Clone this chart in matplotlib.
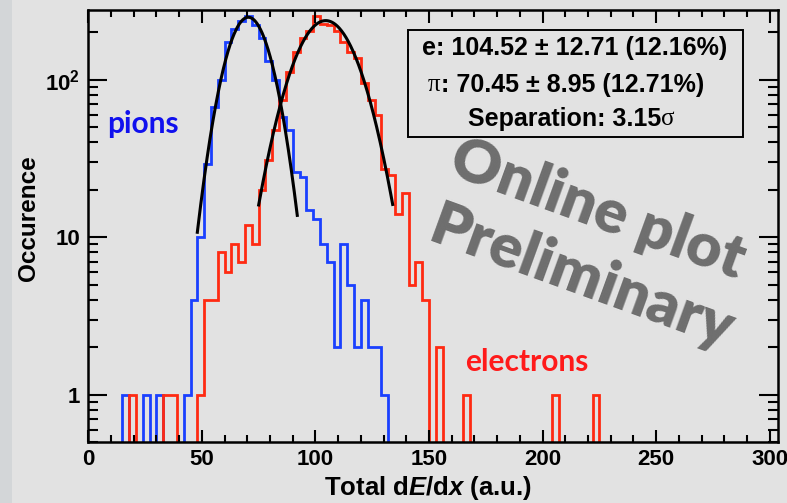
import numpy as np
import matplotlib
matplotlib.use("Agg")
import matplotlib.pyplot as plt
from matplotlib.ticker import FixedLocator, FixedFormatter, LogLocator, NullFormatter, MultipleLocator
from matplotlib.patches import Rectangle

# ---------------- data ----------------
bin_width = 3
x_max = 303
# pion histogram: left bin edge -> counts
pion_bins = [15, 24, 30, 42, 45, 48, 51, 54, 57, 60, 63, 66, 69, 72, 75, 78, 81, 84, 87,
             90, 93, 96, 99, 102, 105, 108, 111, 114, 117, 120, 123, 126, 129]
pion_counts = [1, 1, 1, 1, 4, 10, 29, 67, 100, 175, 210, 237, 255, 222, 184, 131, 100, 58, 48,
               26, 24, 15, 13, 9, 7, 2, 9, 5, 2, 4, 2, 2, 1]
# electron histogram
elec_bins = [18, 33, 36, 48, 51, 54, 57, 60, 63, 66, 69, 72, 75, 78, 81, 84, 87, 90, 93, 96,
             99, 102, 105, 108, 111, 114, 117, 120, 123, 126, 129, 132, 135, 138, 141, 144,
             147, 153, 165, 204, 222]
elec_counts = [1, 1, 1, 1, 4, 4, 8, 6, 9, 7, 12, 9, 20, 31, 48, 75, 113, 151, 185, 205,
               255, 228, 222, 205, 173, 151, 137, 95, 75, 60, 27, 25, 14, 19, 5, 7,
               4, 2, 1, 1, 1]
# gaussian fits (amplitude, mean, sigma, fit range)
pion_fit = dict(amp=250, mean=70.45, sigma=8.95, lo=48, hi=92)
elec_fit = dict(amp=238, mean=104.52, sigma=12.71, lo=75, hi=134)

stats_lines = ["e: 104.52 \u00b1 12.71 (12.16%)",
               ": 70.45 \u00b1 8.95 (12.71%)",
               "Separation: 3.15"]
x_ticks = [0, 50, 100, 150, 200, 250, 300]
y_ticks = [1, 10, 100]
y_ticklabels = ["1", "10", r"$\mathbf{10^{2}}$"]

# ---------------- style ----------------
plt.rcParams["font.family"] = ["Liberation Sans", "DejaVu Sans"]
plt.rcParams["font.weight"] = "bold"
plt.rcParams["mathtext.fontset"] = "custom"
plt.rcParams["mathtext.rm"] = "Liberation Sans:bold"
plt.rcParams["mathtext.bf"] = "Liberation Sans:bold"
plt.rcParams["mathtext.it"] = "Liberation Sans:bold:italic"

BG = "#e2e2e2"
BLUE = "#1a40ff"
RED = "#ff2a12"
W, H = 787, 503
fig = plt.figure(figsize=(W / 100, H / 100), dpi=100, facecolor=BG)
fig.patches.append(Rectangle((0, 0), 12 / W, 1, transform=fig.transFigure,
                             facecolor="#d3d6d8", edgecolor="none", zorder=-1))

L, R, T, B = 88.3, 777.7, 9.5, 442.0
ax = fig.add_axes([L / W, 1 - B / H, (R - L) / W, (B - T) / H])
ax.set_facecolor(BG)

edges = np.arange(0, x_max + bin_width, bin_width)
def full_hist(bins, counts):
    h = np.full(len(edges) - 1, 1e-3)
    for b, c in zip(bins, counts):
        h[int(b // bin_width)] = c
    return h

ax.stairs(full_hist(pion_bins, pion_counts), edges, baseline=None, color=BLUE, lw=2.0)
ax.stairs(full_hist(elec_bins, elec_counts), edges, baseline=None, color=RED, lw=2.0)

for f in (pion_fit, elec_fit):
    xx = np.linspace(f["lo"], f["hi"], 300)
    ax.plot(xx, f["amp"] * np.exp(-0.5 * ((xx - f["mean"]) / f["sigma"]) ** 2),
            color="black", lw=2.2)

ax.set_yscale("log")
ax.set_xlim(0, x_max + 0.5)
ax.set_ylim(0.5, 280)

ax.xaxis.set_major_locator(FixedLocator(x_ticks))
ax.xaxis.set_minor_locator(MultipleLocator(10))
ax.yaxis.set_major_locator(FixedLocator(y_ticks))
ax.yaxis.set_major_formatter(FixedFormatter(y_ticklabels))
ax.yaxis.set_minor_locator(LogLocator(base=10, subs=np.arange(2, 10)))
ax.yaxis.set_minor_formatter(NullFormatter())

ax.tick_params(which="both", direction="in", top=True, right=True, width=1.5,
               labelsize=16, colors="black")
ax.tick_params(axis="x", which="major", length=9, pad=5)
ax.tick_params(axis="x", which="minor", length=5)
ax.tick_params(axis="y", which="major", length=14, pad=6)
ax.tick_params(axis="y", which="minor", length=7)
for lab in ax.get_xticklabels() + ax.get_yticklabels():
    lab.set_fontweight("bold")
for s in ax.spines.values():
    s.set_linewidth(1.8)

ax.set_xlabel(r"Total d$\mathit{E}$/d$\mathit{x}$ (a.u.)", fontsize=18.5, fontweight="bold")
ax.set_ylabel("Occurence", fontsize=17.5, fontweight="bold")
ax.xaxis.set_label_coords((428 - L) / (R - L), (B - 488) / (B - T))
ax.xaxis.label.set_va("center")
ax.yaxis.set_label_coords((29 - L) / (R - L), (B - 218) / (B - T))
ax.yaxis.label.set_va("center")

# labels
ax.text(8.2, 52.6, "pions", color="#1010ee", fontsize=21.5, fontweight="bold",
        family="Lato", va="center", ha="left")
ax.text(166, 1.62, "electrons", color="#ff1a1a", fontsize=21.5, fontweight="bold",
        family="Lato", va="center", ha="left")

# stats box
def axx(px):
    return (px - L) / (R - L)
def axy(py):
    return (B - py) / (B - T)
ax.add_patch(Rectangle((axx(408.3), axy(136.7)), axx(743.3) - axx(408.3),
                       axy(30) - axy(136.7), transform=ax.transAxes,
                       fill=False, edgecolor="black", lw=1.4))
fs = 18
ax.text(axx(575), axy(48), stats_lines[0], transform=ax.transAxes, ha="center",
        va="center", fontsize=fs, fontweight="bold")
t_pi = ax.text(axx(428), axy(85), "\u03c0", transform=ax.transAxes, ha="left",
               va="center", fontsize=fs, family="Liberation Serif", fontweight="normal")
ax.annotate(stats_lines[1], xy=(1, 0.5), xycoords=t_pi, ha="left", va="center",
            fontsize=fs, fontweight="bold")
t_sep = ax.text(axx(468), axy(119), stats_lines[2], transform=ax.transAxes, ha="left",
                va="center", fontsize=fs, fontweight="bold")
ax.annotate("\u03c3", xy=(1, 0.5), xycoords=t_sep, ha="left", va="center",
            fontsize=fs, family="Liberation Serif", fontweight="normal")

# watermark
fig.text(598 / W, 1 - 210 / H, "Online plot", rotation=-20, rotation_mode="anchor",
         ha="center", va="center", fontsize=44, color="#6e6e6e", family="Lato",
         fontweight="heavy")
fig.text(582 / W, 1 - 278 / H, "Preliminary", rotation=-20, rotation_mode="anchor",
         ha="center", va="center", fontsize=44, color="#6e6e6e", family="Lato",
         fontweight="heavy")

fig.savefig("out.png", dpi=100, facecolor=BG)
